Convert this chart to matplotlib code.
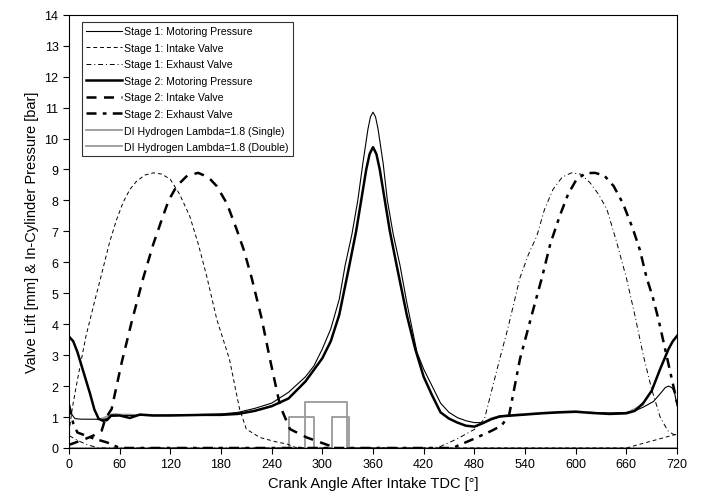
import matplotlib
matplotlib.use("Agg")
import matplotlib.pyplot as plt

plt.rcParams['font.family'] = ['Liberation Sans', 'DejaVu Sans']

# ---- data (crank angle in deg, values in mm or bar) ----
s1_p_x = [0, 3, 7, 15, 30, 40, 45, 50, 60, 80, 100, 120, 140, 160, 180, 200, 220, 240, 260, 280, 290, 300, 310, 320,
          327, 335, 342, 348, 354, 357, 360, 363, 366, 372, 377, 384, 392, 400, 412, 420, 430, 440, 450, 460, 470, 480,
          490, 500, 510, 520, 540, 560, 580, 600, 620, 640, 660, 670, 680, 692, 700, 706, 710, 714, 717, 720]
s1_p_y = [1.32, 1.10, 0.95, 0.93, 0.93, 0.92, 0.95, 1.02, 1.05, 1.05, 1.05, 1.06, 1.07, 1.08, 1.10, 1.15, 1.28, 1.45,
          1.80, 2.30, 2.65, 3.20, 3.85, 4.80, 5.90, 6.90, 8.00, 9.20, 10.30, 10.70, 10.85, 10.70, 10.30, 9.20, 8.00,
          6.90, 5.90, 4.70, 3.10, 2.55, 2.00, 1.45, 1.15, 0.98, 0.88, 0.82, 0.82, 0.92, 1.00, 1.04, 1.08, 1.12, 1.16,
          1.15, 1.15, 1.13, 1.15, 1.20, 1.32, 1.50, 1.75, 1.95, 2.00, 1.95, 1.80, 1.36]

s2_p_x = [0, 5, 10, 15, 20, 25, 30, 35, 40, 45, 50, 60, 72, 84, 100, 120, 140, 160, 180, 200, 220, 240, 260, 280, 300,
          310, 320, 332, 340, 346, 352, 356, 360, 364, 368, 374, 380, 388, 400, 410, 420, 430, 440, 450, 460, 470, 480,
          490, 500, 510, 520, 540, 560, 580, 600, 620, 640, 660, 670, 680, 690, 700, 710, 715, 720]
s2_p_y = [3.60, 3.45, 3.10, 2.65, 2.20, 1.75, 1.25, 0.95, 0.88, 0.90, 1.05, 1.05, 0.97, 1.08, 1.05, 1.05, 1.06, 1.07,
          1.07, 1.10, 1.20, 1.35, 1.60, 2.15, 2.90, 3.45, 4.30, 5.90, 7.00, 8.00, 9.00, 9.50, 9.72, 9.50, 9.00, 8.00,
          7.00, 5.90, 4.30, 3.20, 2.30, 1.70, 1.15, 0.95, 0.82, 0.72, 0.69, 0.80, 0.93, 1.02, 1.04, 1.08, 1.12, 1.15,
          1.17, 1.13, 1.10, 1.12, 1.20, 1.45, 1.85, 2.55, 3.20, 3.45, 3.62]

s1_in_x = [0, 2, 4, 10, 20, 30, 38, 48, 56, 64, 72, 80, 90, 100, 110, 120, 131, 143, 153, 163, 175, 190, 202, 210,
           226, 245, 258, 270, 660, 680, 700, 720]
s1_in_y = [0.50, 0.90, 1.30, 2.20, 3.60, 4.70, 5.55, 6.64, 7.35, 7.93, 8.35, 8.62, 8.82, 8.89, 8.85, 8.68, 8.20, 7.49,
           6.60, 5.56, 4.16, 2.87, 1.26, 0.61, 0.34, 0.20, 0.13, 0.0, 0.0, 0.15, 0.30, 0.45]

s1_ex_x = [0, 10, 20, 35, 430, 440, 460, 480, 492, 500, 510, 520, 534, 544, 554, 563, 573, 584, 595, 606, 617, 627,
           637, 648, 660, 670, 680, 690, 700, 709, 715, 720]
s1_ex_y = [0.40, 0.25, 0.12, 0.0, 0.0, 0.05, 0.30, 0.60, 0.94, 1.80, 2.87, 3.90, 5.50, 6.25, 6.85, 7.70, 8.35, 8.75,
           8.89, 8.85, 8.57, 8.20, 7.71, 6.70, 5.50, 4.30, 3.00, 1.90, 1.00, 0.56, 0.45, 0.40]

s2_in_x = [0, 10, 20, 28.8, 38.7, 43, 50.5, 62.4, 74, 88, 100, 110, 118, 127.5, 140, 153, 165, 175, 187, 198.6, 207,
           216.3, 228, 238, 250, 261.7, 281.5, 309, 315]
s2_in_y = [0.10, 0.20, 0.30, 0.40, 0.56, 0.94, 1.26, 2.76, 4.05, 5.50, 6.60, 7.39, 8.00, 8.46, 8.80, 8.89, 8.75, 8.46,
           7.90, 7.06, 6.40, 5.50, 4.20, 2.87, 1.36, 0.61, 0.34, 0.07, 0.0]

s2_ex_x = [0, 5, 10, 30, 45, 60, 455, 460, 479, 500, 512, 521, 534, 548, 560, 570, 581, 591, 601, 612, 623, 634, 645,
           656, 668, 676, 684, 691, 698, 713, 720]
s2_ex_y = [1.40, 0.80, 0.50, 0.30, 0.18, 0.0, 0.0, 0.07, 0.29, 0.55, 0.72, 1.04, 2.87, 4.30, 5.50, 6.60, 7.49, 8.20,
           8.68, 8.88, 8.89, 8.80, 8.46, 7.90, 7.06, 6.40, 5.50, 4.90, 4.16, 2.33, 1.47]

# DI hydrogen injection signals
di_single_x = [0, 280, 280, 329, 329, 720]
di_single_y = [0, 0, 1.5, 1.5, 0, 0]
di_double_x = [0, 260, 260, 290, 290, 311, 311, 332, 332, 720]
di_double_y = [0, 0, 1.0, 1.0, 0, 0, 1.0, 1.0, 0, 0]

# DI hydrogen pressure traces (low-pressure parts where they separate from the black traces)
di_p_x = [35, 40, 45, 50, 55, 60, 70, 80, 100, 120, 140, 160, 180, 200, 220, 240]
di_p_y = [0.92, 0.96, 1.02, 1.08, 1.10, 1.08, 1.08, 1.07, 1.05, 1.06, 1.06, 1.08, 1.08, 1.11, 1.20, 1.36]
di_p2_x = [490, 500, 510, 520, 540, 560, 580, 600, 620, 640, 660, 680]
di_p2_y = [0.82, 0.96, 1.03, 1.06, 1.10, 1.14, 1.17, 1.19, 1.14, 1.11, 1.13, 1.40]

x_ticks = list(range(0, 721, 60))
y_ticks = list(range(0, 15))

labels = ["Stage 1: Motoring Pressure", "Stage 1: Intake Valve", "Stage 1: Exhaust Valve",
          "Stage 2: Motoring Pressure", "Stage 2: Intake Valve", "Stage 2: Exhaust Valve",
          "DI Hydrogen Lambda=1.8 (Single)", "DI Hydrogen Lambda=1.8 (Double)"]

fig = plt.figure(figsize=(7.01, 5.02), dpi=100)
ax = fig.add_axes([0.0984, 0.1056, 0.8674, 0.8631])

gray = '#999999'
ax.plot(di_p_x, di_p_y, color=gray, lw=1.3)
ax.plot(di_p2_x, di_p2_y, color=gray, lw=1.3)
h7, = ax.plot(di_single_x, di_single_y, color=gray, lw=1.3, label=labels[6])
h8, = ax.plot(di_double_x, di_double_y, color=gray, lw=1.3, label=labels[7])

h1, = ax.plot(s1_p_x, s1_p_y, color='black', lw=0.8, label=labels[0])
h2, = ax.plot(s1_in_x, s1_in_y, color='black', lw=0.7, ls=(0, (4, 3)), label=labels[1])
h3, = ax.plot(s1_ex_x, s1_ex_y, color='black', lw=0.7, ls=(0, (5, 3, 1, 3)), label=labels[2])
h4, = ax.plot(s2_p_x, s2_p_y, color='black', lw=1.8, label=labels[3])
h5, = ax.plot(s2_in_x, s2_in_y, color='black', lw=1.8, ls=(0, (4, 3)), label=labels[4])
h6, = ax.plot(s2_ex_x, s2_ex_y, color='black', lw=1.8, ls=(0, (4, 2.5, 1.5, 2.5)), label=labels[5])

ax.set_xlim(0, 720)
ax.set_ylim(0, 14)
ax.set_xticks(x_ticks)
ax.set_yticks(y_ticks)
ax.tick_params(direction='out', length=4, width=0.8, labelsize=9)
for s in ax.spines.values():
    s.set_linewidth(0.8)
ax.set_xlabel("Crank Angle After Intake TDC [°]", fontsize=10.5)
ax.set_ylabel("Valve Lift [mm] & In-Cylinder Pressure [bar]", fontsize=10.5)

leg = ax.legend(handles=[h1, h2, h3, h4, h5, h6, h7, h8], loc='upper left',
                bbox_to_anchor=(0.021, 0.983), fontsize=7.6, frameon=True, fancybox=False,
                edgecolor='black', handlelength=3.4, handletextpad=0.2, labelspacing=0.62,
                borderpad=0.4, borderaxespad=0.0)
leg.get_frame().set_linewidth(0.8)

fig.savefig("out.png", dpi=100)
